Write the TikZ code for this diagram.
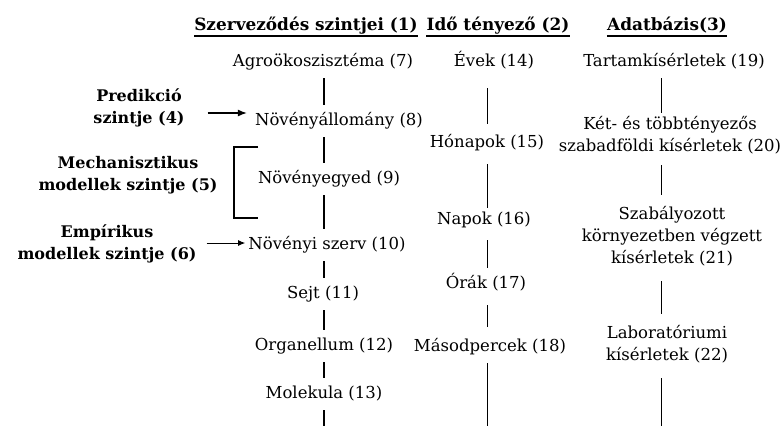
\documentclass[tikz,border=0pt]{standalone}
\usepackage{fontspec}
\setmainfont{DejaVu Serif}
\usetikzlibrary{arrows.meta}

\begin{document}
\begin{tikzpicture}[x=1pt,y=-1pt,
	lvl/.style={font=\fontsize{16.5}{22}\selectfont, inner xsep=3pt, inner ysep=8pt, text height=12pt, text depth=4pt, anchor=base},
	blk/.style={font=\fontsize{16.5}{22}\selectfont, align=center, inner sep=3pt},
	lab/.style={font=\fontsize{16}{21.5}\selectfont\bfseries, align=center, inner sep=3pt},
	hd/.style={font=\fontsize{16.9}{18}\selectfont\bfseries, inner sep=0pt, anchor=base},
	link/.style={line width=0.7pt},
	arr/.style={-{Latex[length=9pt,width=7pt]}, line width=1.4pt}]
	\useasboundingbox (0,0) rectangle (783,426);
	\coordinate (c1) at (324,0);
	\coordinate (c2) at (487,0);
	\coordinate (c3) at (661,0);
	\coordinate (z1) at (324,426);
	\coordinate (z2) at (487,426);
	\coordinate (z3) at (661,426);
	\node[hd](H1) at (306,30){Szerveződés szintjei (1)};
	\node[hd](H2) at (498,30){Idő tényező (2)};
	\node[hd](H3) at (667,30){Adatbázis(3)};
	\draw [line width=1.3pt] ([yshift=-6pt]H1.base west) -- ([yshift=-6pt]H1.base east);
	\draw [line width=1.3pt] ([yshift=-6pt]H2.base west) -- ([yshift=-6pt]H2.base east);
	\draw [line width=1.3pt] ([yshift=-6pt]H3.base west) -- ([yshift=-6pt]H3.base east);
	\node[lvl](A) at (323,66){Agroökoszisztéma (7)};
	\node[lvl](B) at (339,125){Növényállomány (8)};
	\node[lvl](C) at (329,183){Növényegyed (9)};
	\node[lvl](D) at (327,249){Növényi szerv (10)};
	\node[lvl](E) at (323,298){Sejt (11)};
	\node[lvl](F) at (324,350){Organellum (12)};
	\node[lvl](G) at (324,398){Molekula (13)};
	\node[lvl](Ev) at (494,66){Évek (14)};
	\node[lvl](Ho) at (487,147){Hónapok (15)};
	\node[lvl](Na) at (484,224){Napok (16)};
	\node[lvl](Or) at (486,288){Órák (17)};
	\node[lvl](Ms) at (490,351){Másodpercek (18)};
	\node[lvl](Ta) at (674,66){Tartamkísérletek (19)};
	\node[blk](Ke) at (670,135){Két- és többtényezős\\szabadföldi kísérletek (20)};
	\node[blk](Sz) at (672,236){Szabályozott\\környezetben végzett\\kísérletek (21)};
	\node[blk](La) at (667,344){Laboratóriumi\\kísérletek (22)};
	\node[lab](P) at (139,108){Predikció\\szintje (4)};
	\node[lab](M) at (128,175){Mechanisztikus\\modellek szintje (5)};
	\node[lab](Em) at (107,244){Empírikus\\modellek szintje (6)};
	\draw [line width=1.4pt] (A.south -| c1) -- (B.north -| c1);
	\draw [line width=1.4pt] (B.south -| c1) -- (C.north -| c1);
	\draw [line width=1.4pt] (C.south -| c1) -- (D.north -| c1);
	\draw [line width=1.4pt] (D.south -| c1) -- (E.north -| c1);
	\draw [line width=1.4pt] (E.south -| c1) -- (F.north -| c1);
	\draw [line width=1.4pt] (F.south -| c1) -- (G.north -| c1);
	\draw [line width=1.4pt] (G.south -| c1) -- (z1);
	\draw [link, shorten <=10pt, shorten >=3pt] (Ev.south -| c2) -- (Ho.north -| c2);
	\draw [link, shorten <=5pt, shorten >=-4pt] (Ho.south -| c2) -- (Na.north -| c2);
	\draw [link, shorten <=4pt] (Na.south -| c2) -- (Or.north -| c2);
	\draw [link, shorten <=5pt, shorten >=4pt] (Or.south -| c2) -- (Ms.north -| c2);
	\draw [link] (Ms.south -| c2) -- (z2);
	\draw [link] (Ta.south -| c3) -- (Ke.north -| c3);
	\draw [link, shorten <=8pt, shorten >=8pt] (Ke.south -| c3) -- (Sz.north -| c3);
	\draw [link, shorten <=12pt, shorten >=8pt] (Sz.south -| c3) -- (La.north -| c3);
	\draw [link, shorten <=12pt] (La.south -| c3) -- (z3);
	\draw [arr, shorten <=20pt, shorten >=5pt] ([yshift=-5pt]P.east) -- ([yshift=-5pt]P.east -| B.west);
	\draw [arr, line width=1pt, -{Latex[length=7pt,width=6pt]}, shorten <=7pt] ([yshift=1pt]Em.east) -- ([yshift=1pt]Em.east -| D.west);
	\draw [line width=1.2pt] (258,147) -- (234,147) -- (234,218) -- (258,218);
\end{tikzpicture}
\end{document}
